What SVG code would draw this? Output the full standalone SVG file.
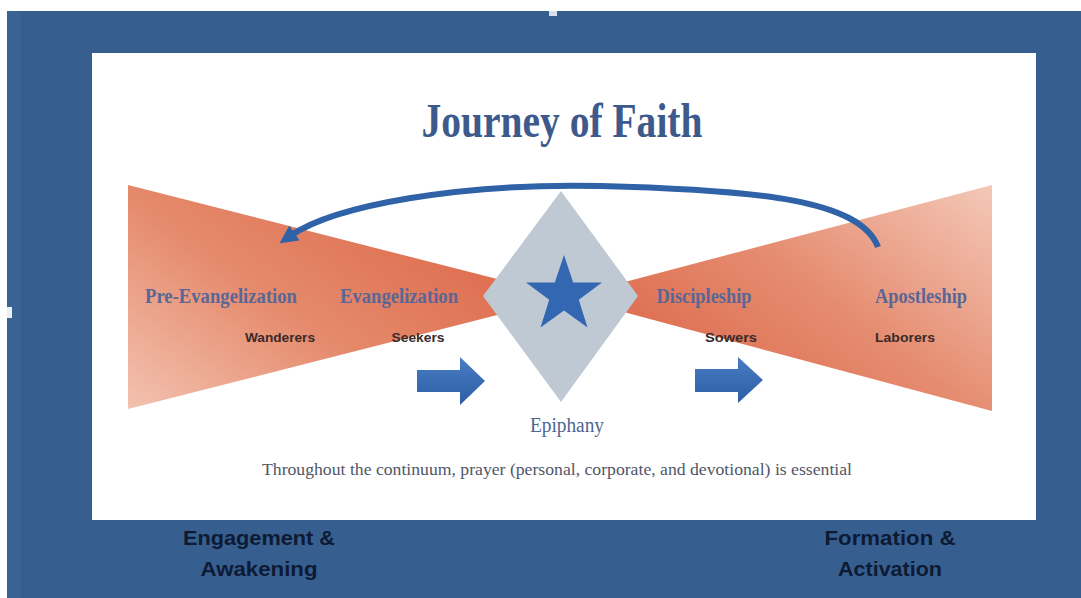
<svg xmlns="http://www.w3.org/2000/svg" width="1081" height="598" viewBox="0 0 1081 598">
  <defs>
    <linearGradient id="gLeft" x1="0" y1="1" x2="1" y2="0.3">
      <stop offset="0" stop-color="#f3c2b0"/>
      <stop offset="0.45" stop-color="#e58a6c"/>
      <stop offset="1" stop-color="#dc6446"/>
    </linearGradient>
    <linearGradient id="gRight" x1="1" y1="0" x2="0" y2="0.7">
      <stop offset="0" stop-color="#f4c8b8"/>
      <stop offset="0.5" stop-color="#e58c70"/>
      <stop offset="1" stop-color="#dc6446"/>
    </linearGradient>
    <linearGradient id="gBlock" x1="0" y1="0" x2="0" y2="1">
      <stop offset="0" stop-color="#4a7cc4"/>
      <stop offset="1" stop-color="#2c5ea6"/>
    </linearGradient>
    <marker id="head" viewBox="0 0 10 10" refX="3" refY="5" markerWidth="3" markerHeight="3" orient="auto" markerUnits="strokeWidth">
      <path d="M0,0 L10,5 L0,10 Z" fill="#2f62a6"/>
    </marker>
    <style>
      .stage { font-family: "Liberation Serif", serif; font-weight: bold; font-size: 21px; fill: #5a6696; text-anchor: middle; }
      .role { font-family: "Liberation Sans", sans-serif; font-weight: bold; font-size: 12.5px; fill: #3a2a28; text-anchor: middle; }
      .phase { font-family: "Liberation Sans", sans-serif; font-weight: bold; font-size: 21px; fill: #0e1a33; text-anchor: middle; }
      .block { fill: url(#gBlock); }
    </style>
  </defs>

  <!-- frame -->
  <rect x="0" y="0" width="1081" height="598" fill="#ffffff"/>
  <rect x="7" y="11" width="1074" height="587" fill="#365f8f"/>
  <rect x="7" y="11" width="14" height="587" fill="#3a6596" opacity="0.6"/>
  <rect x="549" y="9" width="8" height="7" fill="#ffffff" opacity="0.8"/>
  <rect x="5" y="307" width="7" height="11" fill="#ffffff" opacity="0.9"/>
  <rect x="92" y="53" width="944" height="467" fill="#ffffff"/>

  <!-- title -->
  <text id="title" x="562" y="137" font-family="Liberation Serif, serif" font-size="48" font-weight="bold" fill="#3e5a8c" text-anchor="middle" textLength="281" lengthAdjust="spacingAndGlyphs">Journey of Faith</text>

  <!-- funnels -->
  <g id="funnel-left">
    <polygon points="128,185 568,297 128,409" fill="url(#gLeft)"/>
  </g>
  <g id="funnel-right">
    <polygon points="992,185 568,297 992,411" fill="url(#gRight)"/>
  </g>

  <!-- epiphany diamond -->
  <g id="epiphany">
    <polygon points="561,191 638,296 561,402 483,296" fill="#bec9d4"/>
    <polygon points="564,255 573.2,282.4 602,282.6 578.8,299.7 587.5,327.4 564,310.5 540.5,327.4 549.2,299.7 526,282.6 554.8,282.4" fill="#3467b2"/>
    <text x="567" y="432" font-family="Liberation Serif, serif" font-size="20" fill="#4d6790" text-anchor="middle" textLength="74" lengthAdjust="spacingAndGlyphs">Epiphany</text>
  </g>

  <!-- connectors -->
  <g id="connectors">
    <path d="M878,247 C860,200 760,190 600,186 C460,183 335,205 290,236" fill="none" stroke="#2f62a6" stroke-width="6" stroke-linecap="butt" marker-end="url(#head)"/>
    <path class="block" d="M417,370 L460,370 L460,357 L485,381 L460,405 L460,392 L417,392 Z"/>
    <path class="block" d="M695,369 L738,369 L738,357 L763,380 L738,403 L738,392 L695,392 Z"/>
  </g>

  <!-- stage labels -->
  <g id="pre-evangelization">
    <text class="stage" x="221" y="303" textLength="152" lengthAdjust="spacingAndGlyphs">Pre-Evangelization</text>
    <text class="role" x="280" y="342" textLength="70" lengthAdjust="spacingAndGlyphs">Wanderers</text>
  </g>
  <g id="evangelization">
    <text class="stage" x="399" y="303" textLength="118" lengthAdjust="spacingAndGlyphs">Evangelization</text>
    <text class="role" x="418" y="342" textLength="53" lengthAdjust="spacingAndGlyphs">Seekers</text>
  </g>
  <g id="discipleship">
    <text class="stage" x="704" y="303" textLength="95" lengthAdjust="spacingAndGlyphs">Discipleship</text>
    <text class="role" x="731" y="342" textLength="52" lengthAdjust="spacingAndGlyphs">Sowers</text>
  </g>
  <g id="apostleship">
    <text class="stage" x="921" y="303" textLength="92" lengthAdjust="spacingAndGlyphs">Apostleship</text>
    <text class="role" x="905" y="342" textLength="60" lengthAdjust="spacingAndGlyphs">Laborers</text>
  </g>

  <!-- footnote -->
  <text id="prayer" x="557" y="475" font-family="Liberation Serif, serif" font-size="17" fill="#505668" text-anchor="middle" textLength="590" lengthAdjust="spacingAndGlyphs">Throughout the continuum, prayer (personal, corporate, and devotional) is essential</text>

  <!-- phases -->
  <g id="engagement">
    <text class="phase" x="259" y="545" textLength="152" lengthAdjust="spacingAndGlyphs">Engagement &amp;</text>
    <text class="phase" x="259" y="576" textLength="117" lengthAdjust="spacingAndGlyphs">Awakening</text>
  </g>
  <g id="formation">
    <text class="phase" x="890" y="545" textLength="131" lengthAdjust="spacingAndGlyphs">Formation &amp;</text>
    <text class="phase" x="890" y="576" textLength="104" lengthAdjust="spacingAndGlyphs">Activation</text>
  </g>
</svg>
